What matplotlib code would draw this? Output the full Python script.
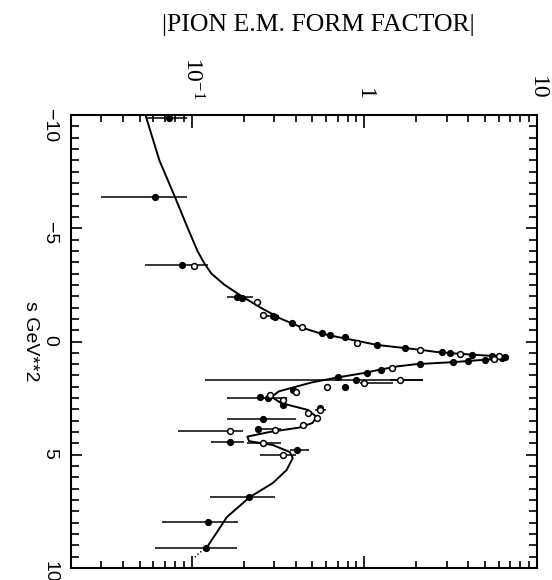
import numpy as np
import matplotlib
matplotlib.use('Agg')
import matplotlib.pyplot as plt
from matplotlib.ticker import FixedLocator, MultipleLocator, LogLocator, NullFormatter

# fitted curve: s (GeV^2) and |F_pi|
curve_s = [-10.0, -8.0, -6.38, -5.0, -4.0, -3.47, -3.0, -2.5, -2.0, -1.5, -1.0, -0.6,
           -0.37, -0.2, 0.0, 0.15, 0.29, 0.38, 0.46, 0.51, 0.58, 0.64, 0.68, 0.72,
           0.77, 0.83, 0.91, 1.0, 1.1, 1.26, 1.39, 1.57, 1.8, 2.0, 2.2, 2.45, 2.72,
           3.02, 3.33, 3.6, 3.8, 4.0, 4.2, 4.4, 4.57, 4.88, 5.14, 5.67, 6.25, 6.87,
           7.75, 9.07]
curve_f = [0.054, 0.065, 0.080, 0.095, 0.108, 0.118, 0.13, 0.155, 0.195, 0.25, 0.33, 0.44,
           0.55, 0.70, 0.95, 1.18, 1.72, 2.18, 2.6, 3.1, 4.2, 5.6, 6.5, 6.8,
           6.0, 4.5, 3.3, 2.0, 1.55, 1.2, 1.0, 0.72, 0.50, 0.40, 0.32, 0.29, 0.33,
           0.47, 0.53, 0.50, 0.42, 0.28, 0.21, 0.215, 0.295, 0.37, 0.385, 0.355, 0.295, 0.217,
           0.16, 0.123]
tail_s = [9.07, 9.35, 9.6]
tail_f = [0.123, 0.110, 0.102]

# filled points: s, |F|, error low, error high
fill_s = [-9.87, -6.38, -3.38, -1.96, -1.90, -1.12, -1.06, -0.80, -0.37, -0.29, -0.20,
          0.15, 0.29, 0.46, 0.51, 0.58, 0.64, 0.70, 0.75, 0.80, 0.86, 0.91, 1.0,
          1.26, 1.39, 1.57, 1.70, 2.01, 2.15, 2.45, 2.50, 2.80, 2.94, 3.42, 3.86,
          4.43, 4.79, 6.87, 7.97, 9.12]
fill_f = [0.074, 0.061, 0.088, 0.183, 0.195, 0.295, 0.303, 0.381, 0.567, 0.632, 0.77,
          1.18, 1.72, 2.82, 3.13, 4.2, 5.5, 6.5, 6.3, 5.0, 4.0, 3.26, 2.1,
          1.25, 1.04, 0.70, 0.90, 0.77, 0.385, 0.249, 0.277, 0.34, 0.553, 0.259, 0.242,
          0.167, 0.41, 0.215, 0.124, 0.121]
fill_lo = [0.055, 0.030, 0.054, 0.160, 0.195, 0.27, 0.303, 0.381, 0.567, 0.632, 0.77,
           1.18, 1.72, 2.82, 3.13, 4.2, 5.5, 6.5, 6.3, 5.0, 4.0, 3.26, 2.1,
           1.25, 1.04, 0.70, 0.119, 0.77, 0.385, 0.249, 0.16, 0.34, 0.553, 0.16, 0.242,
           0.13, 0.37, 0.128, 0.067, 0.061]
fill_hi = [0.094, 0.094, 0.124, 0.226, 0.195, 0.32, 0.303, 0.381, 0.567, 0.632, 0.77,
           1.18, 1.72, 2.82, 3.13, 4.2, 5.5, 6.5, 6.3, 5.0, 4.0, 3.26, 2.1,
           1.25, 1.04, 0.70, 2.18, 0.77, 0.385, 0.249, 0.355, 0.34, 0.553, 0.40, 0.33,
           0.20, 0.48, 0.303, 0.185, 0.183]

# open points
open_s = [-3.33, -1.74, -1.17, -0.64, 0.07, 0.37, 0.55, 0.66, 0.78, 1.17, 1.70, 1.83,
          2.01, 2.23, 2.37, 2.58, 3.02, 3.15, 3.37, 3.69, 3.90, 3.95, 4.48, 5.01]
open_f = [0.103, 0.24, 0.259, 0.435, 0.906, 2.1, 3.6, 6.0, 5.6, 1.45, 1.61, 1.0,
          0.61, 0.40, 0.284, 0.34, 0.553, 0.47, 0.53, 0.44, 0.303, 0.167, 0.259, 0.34]
open_lo = [0.103, 0.24, 0.259, 0.435, 0.906, 2.1, 3.6, 6.0, 5.6, 1.45, 1.41, 0.94,
           0.61, 0.40, 0.284, 0.34, 0.52, 0.47, 0.53, 0.44, 0.303, 0.083, 0.21, 0.25]
open_hi = [0.103, 0.24, 0.259, 0.435, 0.906, 2.1, 3.6, 6.0, 5.6, 1.45, 2.18, 1.46,
           0.61, 0.40, 0.284, 0.34, 0.60, 0.47, 0.53, 0.44, 0.303, 0.198, 0.33, 0.40]

fig = plt.figure(figsize=(5.52, 5.80), dpi=100)
ax = fig.add_axes([0.1286, 0.0207, 0.8442, 0.781])
ax.set_xscale('log')
ax.set_xlim(0.02, 10)
ax.set_ylim(10, -10)

ax.plot(curve_f, curve_s, color='black', lw=1.4)
ax.plot(tail_f, tail_s, color='black', lw=1.0, ls=':')

ff = np.array(fill_f)
ax.errorbar(ff, fill_s, xerr=[ff - np.array(fill_lo), np.array(fill_hi) - ff],
            fmt='o', color='black', ms=4.2, elinewidth=1.1, capsize=0)
of = np.array(open_f)
ax.errorbar(of, open_s, xerr=[of - np.array(open_lo), np.array(open_hi) - of],
            fmt='o', color='black', mfc='white', mec='black', mew=1.1, ms=4.2,
            elinewidth=1.1, capsize=0)

for sp in ax.spines.values():
    sp.set_linewidth(1.5)

# log axis (form factor) -> labels on top
ax.xaxis.set_major_locator(FixedLocator([0.1, 1, 10]))
ax.xaxis.set_minor_locator(LogLocator(base=10, subs=range(2, 10)))
ax.xaxis.set_minor_formatter(NullFormatter())
ax.set_xticklabels([r'$\mathregular{10^{-1}}$', '1', '10'])
ax.tick_params(axis='x', which='both', direction='in', top=True, bottom=True,
               labeltop=True, labelbottom=False, width=1.2)
ax.tick_params(axis='x', which='major', length=9, pad=11, labelsize=17, labelrotation=-90)
ax.tick_params(axis='x', which='minor', length=5)
for t in ax.get_xticklabels():
    t.set_fontfamily('Liberation Serif')

# s axis -> labels on left
ax.yaxis.set_major_locator(MultipleLocator(5))
ax.yaxis.set_minor_locator(MultipleLocator(0.5))
ax.tick_params(axis='y', which='both', direction='in', left=True, right=True, width=1.2)
ax.tick_params(axis='y', which='major', length=8, pad=9, labelsize=14, labelrotation=-90)
ax.tick_params(axis='y', which='minor', length=6)
for t in ax.get_yticklabels():
    t.set_fontfamily('Liberation Sans')

fig.text(30 / 552, 1 - 341 / 580, 's GeV**2', rotation=-90, ha='center', va='center',
         fontsize=14, family='Liberation Sans')
fig.text(318 / 552, 1 - 25 / 580, '|PION E.M. FORM FACTOR|', ha='center', va='center',
         fontsize=18.5, family='Liberation Serif')

fig.savefig('out.png', dpi=100)
